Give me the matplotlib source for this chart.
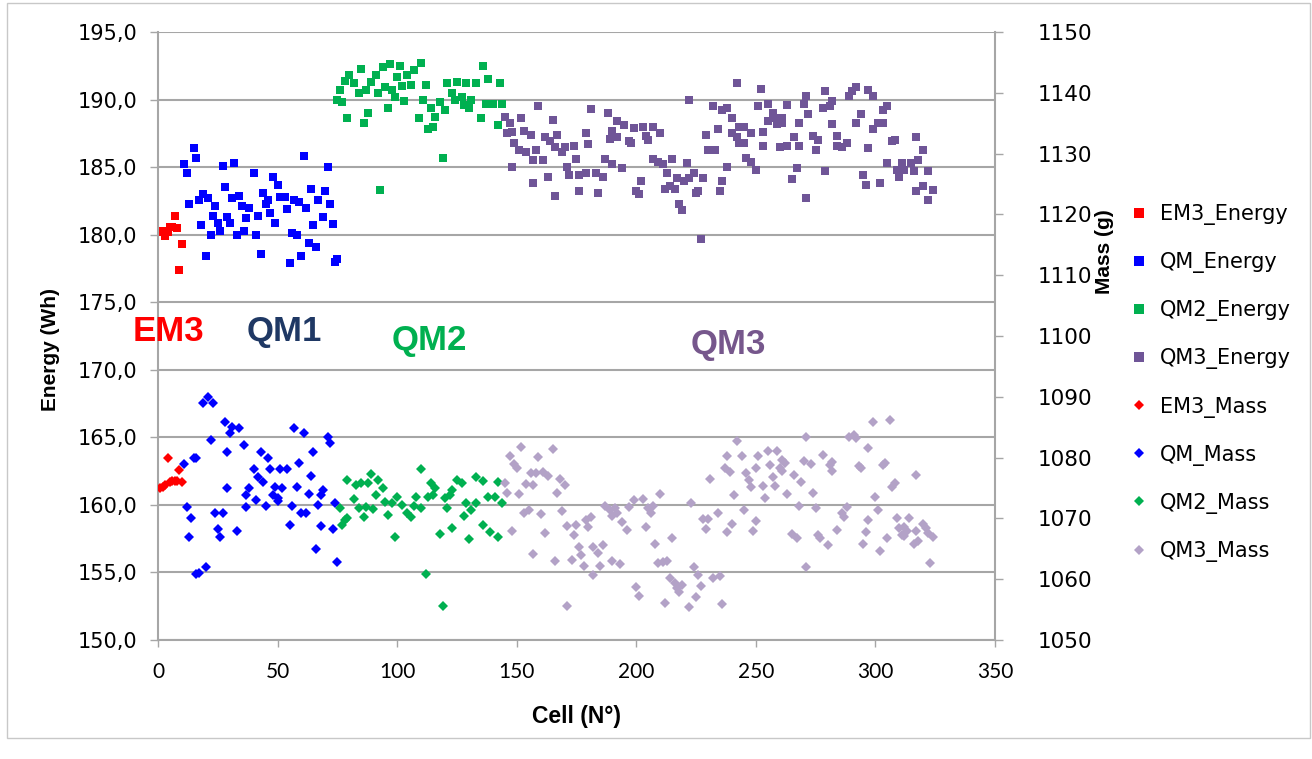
import matplotlib.pyplot as plt
from matplotlib.patches import Rectangle
from matplotlib.ticker import FuncFormatter, MultipleLocator

# (cell number, energy in Wh)
em3_energy = [(1, 180.2), (2, 180.3), (3, 179.9), (4, 180.2), (5, 180.6), (6, 180.6),
              (7, 181.4), (8, 180.5), (9, 177.4), (10, 179.3)]

qm_energy = [(11, 185.2), (12, 184.6), (13, 182.3), (15, 186.4), (16, 185.7), (17, 182.6),
             (18, 180.7), (19, 183.0), (20, 178.4), (21, 182.7), (22, 180.0), (23, 181.4),
             (24, 182.1), (25, 180.9), (26, 180.3), (27, 185.1), (28, 183.5), (29, 181.3),
             (30, 180.9), (31, 182.7), (32, 185.3), (33, 180.0), (34, 182.9), (35, 182.1),
             (36, 180.3), (37, 181.2), (38, 182.0), (40, 184.6), (41, 180.0), (42, 181.4),
             (43, 178.6), (44, 183.1), (45, 182.3), (46, 182.6), (47, 181.6), (48, 184.3),
             (49, 180.9), (50, 183.7), (51, 182.8), (53, 182.8), (54, 181.9), (55, 177.9),
             (56, 180.1), (57, 182.6), (58, 180.0), (59, 182.4), (60, 178.4), (61, 185.8),
             (62, 182.0), (63, 179.4), (64, 183.4), (65, 180.7), (66, 179.1), (67, 182.6),
             (69, 181.3), (70, 183.2), (71, 185.0), (72, 182.3), (73, 180.8), (74, 178.0),
             (75, 178.2)]

qm2_energy = [(75, 190.0), (76, 190.7), (77, 189.8), (78, 191.4), (79, 188.6), (80, 191.8),
              (82, 191.2), (84, 190.5), (85, 192.3), (86, 188.3), (87, 190.7), (88, 189.0),
              (89, 191.3), (91, 191.8), (92, 190.5), (93, 183.3), (94, 192.4), (95, 190.9),
              (96, 189.4), (97, 192.6), (98, 190.7), (99, 190.2), (100, 191.7), (101, 192.5),
              (102, 191.0), (103, 189.9), (104, 191.8), (106, 191.1), (107, 192.2), (109, 188.6),
              (110, 192.7), (111, 190.0), (112, 191.1), (113, 187.8), (114, 189.4), (115, 188.0),
              (116, 188.7), (118, 189.8), (119, 185.7), (120, 189.2), (121, 191.2), (123, 190.5),
              (124, 190.0), (125, 191.3), (127, 190.2), (128, 189.6), (129, 191.2), (130, 189.4),
              (131, 190.0), (133, 191.2), (135, 188.6), (136, 192.5), (137, 189.7), (138, 191.5),
              (140, 189.7), (142, 188.1), (143, 191.2), (144, 189.7)]

qm3_energy = [(145, 188.7), (146, 187.5), (147, 188.3), (148, 187.6), (148, 185.0), (149, 186.8),
              (151, 186.3), (152, 188.6), (153, 187.7), (154, 186.1), (156, 187.4), (157, 185.5),
              (157, 183.8), (158, 186.3), (159, 189.5), (161, 185.5), (162, 187.2), (163, 184.3),
              (164, 186.9), (165, 188.5), (166, 186.5), (166, 182.9), (167, 187.4), (169, 186.1),
              (170, 186.5), (171, 185.0), (172, 184.4), (174, 186.6), (175, 185.6), (176, 184.4),
              (176, 183.2), (179, 187.5), (179, 184.6), (180, 186.7), (181, 189.3), (183, 184.6),
              (184, 183.1), (186, 184.3), (187, 185.6), (188, 189.0), (189, 187.1), (190, 187.7),
              (190, 185.2), (192, 188.4), (192, 187.2), (194, 184.9), (195, 188.1), (197, 186.9),
              (198, 186.8), (199, 187.9), (200, 183.2), (201, 183.0), (202, 184.0), (203, 188.0),
              (204, 187.3), (205, 187.0), (207, 188.0), (207, 185.6), (209, 185.4), (210, 187.5),
              (211, 185.2), (212, 183.4), (213, 184.6), (214, 183.6), (215, 185.6), (216, 183.4),
              (217, 184.2), (218, 182.3), (219, 181.8), (220, 184.0), (221, 185.3), (222, 190.0),
              (222, 184.2), (224, 184.6), (225, 183.1), (226, 183.2), (227, 179.7), (228, 184.2),
              (229, 187.4), (230, 186.3), (232, 189.5), (233, 186.3), (234, 187.8), (235, 183.2),
              (236, 189.2), (236, 184.0), (238, 189.4), (238, 185.0), (240, 188.6), (240, 187.5),
              (242, 191.2), (242, 187.2), (243, 186.8), (243, 188.0), (245, 188.0), (245, 186.8),
              (246, 185.7), (248, 187.5), (248, 185.4), (250, 184.8), (251, 189.5), (252, 190.8),
              (253, 187.6), (253, 186.6), (255, 189.7), (255, 188.4), (257, 189.0), (258, 188.6),
              (259, 188.2), (260, 186.5), (261, 188.6), (261, 188.3), (263, 189.6), (263, 186.6),
              (265, 184.1), (266, 187.2), (267, 184.9), (268, 188.3), (268, 186.6), (270, 189.7),
              (271, 190.3), (271, 182.7), (272, 188.9), (274, 187.3), (275, 186.3), (276, 187.0),
              (278, 189.4), (279, 190.6), (279, 184.7), (281, 189.5), (282, 189.9), (282, 188.2),
              (284, 187.3), (284, 186.6), (286, 186.5), (288, 186.8), (289, 190.3), (290, 190.6),
              (292, 190.9), (292, 188.3), (294, 188.9), (295, 184.4), (296, 183.7), (297, 190.7),
              (297, 186.4), (299, 190.3), (299, 187.8), (301, 188.3), (302, 183.8), (303, 189.2),
              (303, 188.3), (305, 189.5), (305, 185.3), (307, 186.9), (308, 187.0), (309, 184.8),
              (310, 184.3), (311, 185.3), (312, 184.8), (315, 185.3), (316, 184.7), (317, 187.2),
              (317, 183.2), (318, 185.5), (320, 186.3), (320, 183.6), (322, 184.7), (322, 182.6),
              (324, 183.3)]

# (cell number, mass in g)
em3_mass = [(1, 1075.0), (2, 1075.2), (3, 1075.5), (4, 1079.9), (5, 1076.0), (6, 1076.2),
            (7, 1076.2), (8, 1076.2), (9, 1078.0), (10, 1076.0)]

qm_mass = [(11, 1078.9), (12, 1071.9), (13, 1066.9), (14, 1070.1), (15, 1079.9), (16, 1079.9),
           (16, 1060.9), (17, 1061.0), (19, 1089.0), (20, 1062.0), (21, 1090.0), (22, 1082.9),
           (23, 1089.0), (24, 1070.9), (25, 1068.3), (26, 1066.9), (27, 1070.9), (28, 1085.9),
           (29, 1080.9), (29, 1075.0), (30, 1084.0), (31, 1085.0), (33, 1067.9), (34, 1084.9),
           (36, 1082.1), (37, 1073.8), (37, 1071.9), (38, 1075.0), (40, 1078.1), (41, 1073.0),
           (42, 1076.8), (43, 1080.9), (44, 1076.0), (45, 1072.0), (46, 1079.9), (47, 1078.1),
           (48, 1073.8), (49, 1075.2), (50, 1073.4), (50, 1072.9), (51, 1078.1), (52, 1075.0),
           (54, 1078.1), (55, 1068.9), (56, 1072.0), (57, 1084.9), (58, 1075.2), (59, 1079.1),
           (60, 1070.9), (61, 1084.0), (62, 1070.9), (63, 1074.0), (64, 1077.0), (65, 1080.9),
           (66, 1065.0), (67, 1072.2), (68, 1073.8), (68, 1068.8), (69, 1074.7), (71, 1083.4),
           (72, 1082.4), (73, 1068.3), (74, 1072.5), (75, 1062.8)]

qm2_mass = [(76, 1071.7), (77, 1068.9), (78, 1069.7), (79, 1076.3), (79, 1070.1), (82, 1073.2),
            (83, 1075.5), (84, 1071.7), (85, 1075.8), (86, 1070.2), (87, 1071.9), (88, 1075.8),
            (89, 1077.3), (90, 1071.5), (91, 1073.8), (92, 1076.3), (94, 1075.0), (95, 1072.7),
            (96, 1070.6), (98, 1072.5), (99, 1066.9), (100, 1073.5), (102, 1072.2), (104, 1070.9),
            (106, 1070.2), (107, 1072.0), (108, 1073.5), (110, 1078.1), (110, 1071.7), (112, 1060.9),
            (113, 1073.5), (114, 1075.8), (115, 1073.8), (116, 1075.0), (118, 1067.4), (119, 1055.6),
            (120, 1073.4), (121, 1071.7), (122, 1073.8), (123, 1074.7), (123, 1068.4), (125, 1076.3),
            (127, 1075.8), (128, 1070.4), (129, 1072.5), (130, 1066.6), (131, 1071.4), (133, 1072.5),
            (133, 1076.8), (136, 1076.2), (136, 1068.9), (138, 1073.5), (139, 1067.8), (141, 1073.5),
            (142, 1076.0), (142, 1066.9), (144, 1072.5)]

qm3_mass = [(145, 1075.8), (146, 1074.2), (147, 1080.3), (148, 1067.9), (149, 1078.9), (150, 1078.3),
            (151, 1074.0), (152, 1081.7), (153, 1070.9), (154, 1075.7), (155, 1071.4), (156, 1077.5),
            (157, 1075.5), (157, 1064.1), (158, 1077.5), (159, 1080.1), (160, 1070.7), (161, 1077.6),
            (162, 1067.6), (163, 1077.0), (165, 1081.4), (166, 1063.0), (167, 1074.2), (168, 1076.5),
            (169, 1071.2), (170, 1075.5), (171, 1068.8), (171, 1055.6), (173, 1063.2), (174, 1067.3),
            (175, 1068.9), (176, 1065.3), (177, 1064.0), (178, 1062.2), (179, 1069.7), (180, 1068.6),
            (181, 1070.2), (182, 1065.3), (182, 1060.7), (184, 1064.3), (185, 1062.2), (186, 1065.6),
            (187, 1072.0), (189, 1071.4), (190, 1070.4), (190, 1063.0), (191, 1071.7), (192, 1070.9),
            (193, 1062.5), (194, 1069.4), (196, 1068.1), (197, 1071.9), (199, 1073.0), (200, 1058.7),
            (201, 1057.2), (203, 1073.2), (204, 1068.6), (205, 1071.7), (206, 1070.9), (207, 1072.0),
            (208, 1065.8), (209, 1062.7), (210, 1074.0), (211, 1062.8), (212, 1056.1), (213, 1063.0),
            (214, 1060.2), (215, 1066.8), (216, 1059.4), (217, 1058.6), (218, 1057.9), (219, 1059.0),
            (222, 1055.4), (223, 1072.5), (224, 1062.0), (225, 1057.1), (226, 1060.7), (227, 1058.9),
            (228, 1069.9), (229, 1068.3), (230, 1069.9), (231, 1076.5), (232, 1060.2), (234, 1070.9),
            (235, 1060.5), (236, 1055.9), (237, 1078.3), (238, 1080.3), (238, 1067.8), (239, 1077.6),
            (240, 1069.1), (241, 1073.8), (242, 1082.7), (244, 1080.3), (245, 1071.4), (246, 1077.5),
            (247, 1076.3), (248, 1075.2), (249, 1067.9), (250, 1078.3), (250, 1069.6), (251, 1080.3),
            (253, 1075.3), (254, 1073.4), (255, 1081.1), (256, 1078.8), (257, 1076.8), (258, 1075.3),
            (259, 1081.1), (260, 1078.3), (261, 1079.6), (261, 1077.8), (262, 1079.1), (263, 1074.0),
            (265, 1067.4), (266, 1077.1), (267, 1066.8), (268, 1072.0), (269, 1076.0), (270, 1079.4),
            (271, 1083.4), (271, 1062.0), (273, 1078.9), (274, 1074.2), (275, 1071.7), (276, 1067.3),
            (277, 1066.8), (278, 1080.4), (280, 1065.6), (281, 1078.8), (282, 1079.3), (282, 1077.8),
            (284, 1068.1), (286, 1070.9), (287, 1070.2), (288, 1071.9), (289, 1083.4), (291, 1083.7),
            (292, 1083.2), (293, 1078.6), (294, 1078.3), (295, 1065.8), (296, 1067.8), (297, 1081.6),
            (297, 1069.7), (299, 1085.9), (300, 1073.5), (301, 1071.4), (302, 1064.6), (303, 1078.8),
            (304, 1079.1), (305, 1066.8), (306, 1086.2), (307, 1075.2), (308, 1075.8), (309, 1070.1),
            (310, 1068.4), (311, 1067.3), (312, 1068.6), (312, 1067.1), (313, 1067.9), (314, 1070.1),
            (316, 1065.8), (317, 1077.1), (317, 1067.9), (318, 1066.3), (320, 1069.1), (321, 1068.4),
            (322, 1067.6), (323, 1062.7), (324, 1066.9)]

energy_series = [("EM3_Energy", em3_energy, "#ff0000"),
                 ("QM_Energy", qm_energy, "#0000ff"),
                 ("QM2_Energy", qm2_energy, "#00b050"),
                 ("QM3_Energy", qm3_energy, "#6f5597")]
mass_series = [("EM3_Mass", em3_mass, "#ff0000"),
               ("QM_Mass", qm_mass, "#0000ff"),
               ("QM2_Mass", qm2_mass, "#00b050"),
               ("QM3_Mass", qm3_mass, "#b3a2c7")]

# group names written inside the plot: (text, cell, energy, colour)
group_labels = [("EM3", 4.2, 172.8, "#ff0000"),
                ("QM1", 53, 172.8, "#1f3864"),
                ("QM2", 113.5, 172.2, "#00b050"),
                ("QM3", 238.5, 171.9, "#76578c")]

grey = "#a6a6a6"
narrow = ["Liberation Sans Narrow", "Lato", "DejaVu Sans"]
bold_font = "Liberation Sans"

fig = plt.figure(figsize=(13.12, 7.59), dpi=100)
fig.add_artist(Rectangle((0.0053, 0.028), 0.993, 0.968, transform=fig.transFigure,
                         fill=False, edgecolor="#c8c8c8", lw=1))

ax = fig.add_axes([0.1204, 0.1568, 0.6380, 0.8010])
ax2 = ax.twinx()

handles = []
for name, pts, col in energy_series:
    x = [p[0] for p in pts]
    y = [p[1] for p in pts]
    h, = ax.plot(x, y, ls="none", marker="s", ms=6.3, mew=0, color=col, label=name)
    handles.append(h)
for name, pts, col in mass_series:
    x = [p[0] for p in pts]
    y = [p[1] for p in pts]
    h, = ax2.plot(x, y, ls="none", marker="D", ms=5.0, mew=0, color=col, label=name)
    handles.append(h)

ax.set_xlim(0, 350)
ax.set_ylim(150, 195)
ax2.set_ylim(1050, 1150)
ax.xaxis.set_major_locator(MultipleLocator(50))
ax.yaxis.set_major_locator(MultipleLocator(5))
ax2.yaxis.set_major_locator(MultipleLocator(10))
ax.yaxis.set_major_formatter(FuncFormatter(lambda v, p: f"{v:.1f}".replace(".", ",")))

ax.set_axisbelow(True)
ax.yaxis.grid(True, color=grey, lw=1.5)

for s in ["top", "right"]:
    ax.spines[s].set_visible(False)
for s in ["top", "left", "bottom"]:
    ax2.spines[s].set_visible(False)
for s in ["left", "bottom"]:
    ax.spines[s].set_color(grey)
    ax.spines[s].set_linewidth(1.5)
ax2.spines["right"].set_color(grey)
ax2.spines["right"].set_linewidth(1.5)

ax.tick_params(axis="y", length=6, width=1, color=grey, labelsize=15, pad=9)
ax2.tick_params(axis="y", length=6, width=1, color=grey, labelsize=15.5, pad=25)
ax.tick_params(axis="x", length=5, width=1, color=grey, pad=11)
for lab in ax.get_xticklabels():
    lab.set_fontfamily(narrow)
    lab.set_fontsize(15)

for txt, cx, cy, col in group_labels:
    ax.text(cx, cy, txt, color=col, fontsize=25, fontweight="bold", family=bold_font,
            ha="center", va="center")

fig.text(51 / 1312, 1 - 350 / 759, "Energy (Wh)", rotation=90, ha="center", va="center",
         fontsize=15, fontweight="bold", family=bold_font)
fig.text(1104 / 1312, 1 - 252 / 759, "Mass (g)", rotation=90, ha="center", va="center",
         fontsize=15, fontweight="bold", family=bold_font)
fig.text(577 / 1312, 1 - 717 / 759, "Cell (N°)", ha="center", va="center",
         fontsize=16.5, fontweight="bold", family=bold_font)

fig.legend(handles, [h.get_label() for h in handles], loc="center left",
           bbox_to_anchor=(1129 / 1312, 1 - 383 / 759), frameon=False, fontsize=15,
           borderaxespad=0, borderpad=0, handlelength=1.0, handletextpad=0.5,
           labelspacing=1.3, markerscale=1.1)

fig.savefig("out.png", dpi=100)
